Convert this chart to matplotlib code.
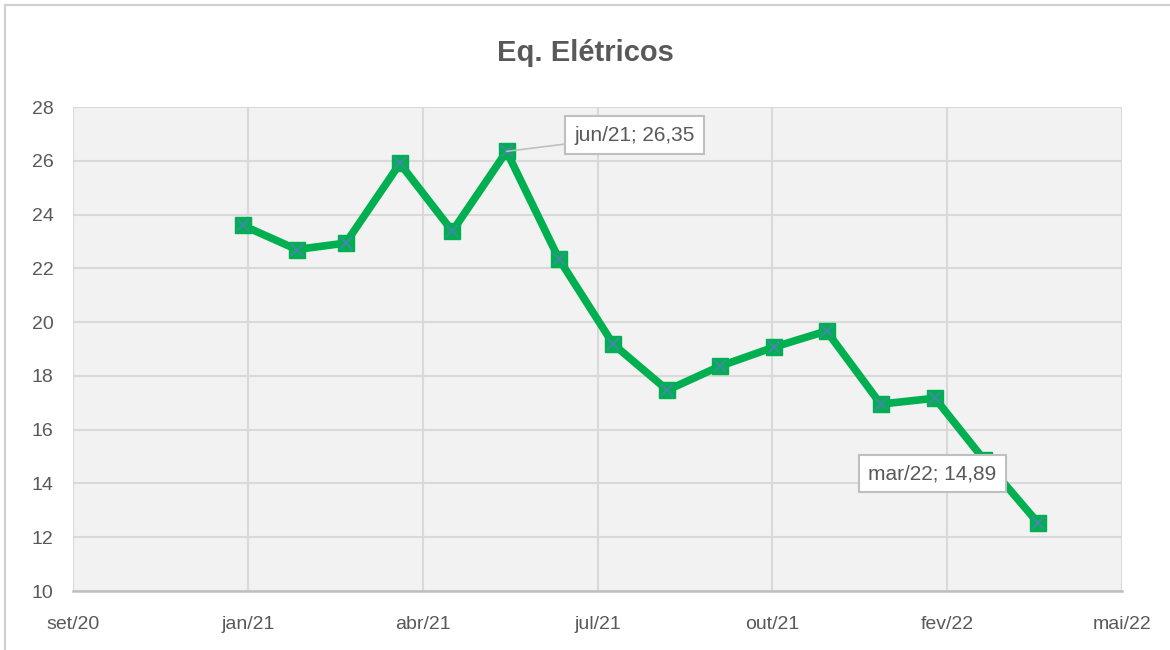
import pandas as pd
import matplotlib
matplotlib.use('Agg')
import matplotlib.pyplot as plt
from matplotlib.lines import Line2D

# data
meses = ['2021-01', '2021-02', '2021-03', '2021-04', '2021-05', '2021-06', '2021-07', '2021-08',
         '2021-09', '2021-10', '2021-11', '2021-12', '2022-01', '2022-02', '2022-03', '2022-04']
valores = [23.60, 22.70, 22.94, 25.90, 23.38, 26.35, 22.34, 19.18,
           17.47, 18.36, 19.07, 19.67, 16.95, 17.17, 14.89, 12.53]
nomes_mes = ['jan', 'fev', 'mar', 'abr', 'mai', 'jun', 'jul', 'ago', 'set', 'out', 'nov', 'dez']

datas = pd.to_datetime(meses)

plt.rcParams['font.family'] = ['Liberation Sans Narrow', 'Liberation Sans', 'DejaVu Sans']
cinza = '#595959'

fig = plt.figure(figsize=(11.7, 6.5), dpi=100)
ax = fig.add_axes([73/1170, 1-591/650, (1122-73)/1170, (591-107)/650])
ax.set_facecolor('#F2F2F2')

ax.plot(datas, valores, color='#00B050', lw=5.5, marker='s', ms=11,
        mfc='#00B050', mec='#00B050', zorder=3, solid_capstyle='round')
ax.plot(datas, valores, ls='none', marker='x', ms=9, mew=1.4, color='#4F81BD', alpha=0.85, zorder=4)

# eixo x (excel: min 44100, passo 100 dias)
inicio = pd.Timestamp('2020-09-26')
ticks = [inicio + pd.Timedelta(days=100 * i) for i in range(7)]
ax.set_xlim(ticks[0], ticks[-1])
ax.set_xticks(ticks)
ax.set_xticklabels([f"{nomes_mes[t.month-1]}/{t.strftime('%y')}" for t in ticks])
ax.set_ylim(10, 28)
ax.set_yticks(range(10, 29, 2))

ax.grid(True, color='#D9D9D9', lw=1.5)
ax.set_axisbelow(True)
for s in ['top', 'right', 'left']:
    ax.spines[s].set_visible(False)
ax.spines['bottom'].set_color('#BFBFBF')
ax.spines['bottom'].set_linewidth(1.8)
ax.tick_params(length=0, labelsize=14, colors=cinza)
ax.tick_params(axis='x', pad=18)
ax.tick_params(axis='y', pad=14)

fig.text(0.5, 0.918, 'Eq. Elétricos', ha='center', va='center', fontsize=21,
         fontweight='bold', color=cinza)

caixa = dict(boxstyle='square,pad=0.45', fc='white', ec='#BFBFBF', lw=1.5)
ax.annotate('jun/21; 26,35', xy=(datas[5], valores[5]), xytext=(68, 16), textcoords='offset pixels',
            fontsize=15, color=cinza, va='center', ha='left', bbox=caixa,
            arrowprops=dict(arrowstyle='-', color='#BFBFBF', lw=1.2, shrinkA=0, shrinkB=0), zorder=5)
ax.annotate('mar/22; 14,89', xy=(datas[14], valores[14]), xytext=(-116, -14), textcoords='offset pixels',
            fontsize=15, color=cinza, va='center', ha='left', bbox=caixa, zorder=5)

# borda da imagem
fig.add_artist(Line2D([0.004, 0.004], [0, 0.993], color='#D0D0D0', lw=1.5))
fig.add_artist(Line2D([0.004, 1], [0.993, 0.993], color='#D0D0D0', lw=1.5))

fig.savefig('out.png', dpi=100)
